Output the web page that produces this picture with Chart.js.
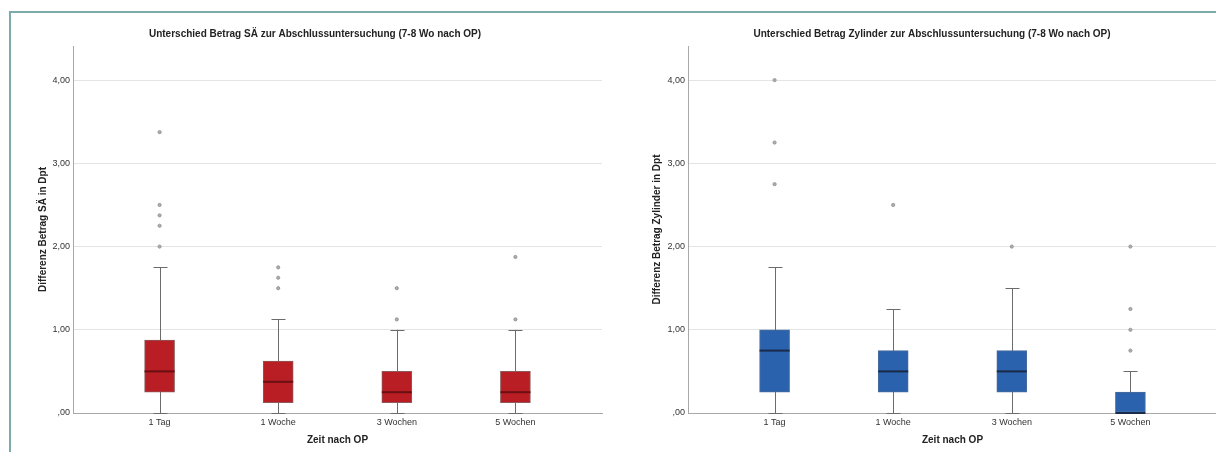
<!DOCTYPE html>
<html>
<head>
<meta charset="utf-8">
<script src="https://cdn.jsdelivr.net/npm/chart.js@4"></script>
<style>
  body { margin: 0; background: #fff; width: 1216px; height: 452px; overflow: hidden; position: relative; }
  #frame { position: absolute; left: 9px; top: 11px; width: 1220px; height: 460px; border-top: 2px solid #7cabaa; border-left: 2px solid #7cabaa; }
  .wrap { position: absolute; top: 14px; height: 438px; }
  #w1 { left: 12px; width: 606px; }
  #w2 { left: 608px; width: 648px; }
</style>
</head>
<body>
<div id="frame"></div>
<div class="wrap" id="w1"><canvas id="chart1"></canvas></div>
<div class="wrap" id="w2"><canvas id="chart2"></canvas></div>
<script>
var categories = ["1 Tag", "1 Woche", "3 Wochen", "5 Wochen"];
var yTicks = [0, 1, 2, 3, 4];

// Betrag SA
var saLow = [0, 0, 0, 0];
var saQ1 = [0.25, 0.125, 0.125, 0.125];
var saMedian = [0.5, 0.375, 0.25, 0.25];
var saQ3 = [0.875, 0.625, 0.5, 0.5];
var saHigh = [1.75, 1.125, 1.0, 1.0];
var saOutliers = [
  [3.375, 2.5, 2.375, 2.25, 2.0],
  [1.75, 1.625, 1.5],
  [1.5, 1.125],
  [1.875, 1.125]
];

// Betrag Zylinder
var zylLow = [0, 0, 0, 0];
var zylQ1 = [0.25, 0.25, 0.25, 0];
var zylMedian = [0.75, 0.5, 0.5, 0];
var zylQ3 = [1.0, 0.75, 0.75, 0.25];
var zylHigh = [1.75, 1.25, 1.5, 0.5];
var zylOutliers = [
  [4.0, 3.25, 2.75],
  [2.5],
  [2.0],
  [2.0, 1.25, 1.0, 0.75]
];

var fontFam = "'Liberation Sans', Arial, sans-serif";

var boxPlugin = {
  id: "boxExtras",
  beforeDatasetsDraw: function (chart) {
    var b = chart.options.plugins.boxExtras;
    var ctx = chart.ctx, x = chart.scales.x, y = chart.scales.y;
    ctx.save();
    ctx.strokeStyle = "#6b6b6b";
    ctx.lineWidth = 1;
    for (var i = 0; i < categories.length; i++) {
      var px = Math.round(x.getPixelForValue(i)) + 0.5;
      var lo = y.getPixelForValue(b.low[i]);
      var hi = y.getPixelForValue(b.high[i]);
      ctx.beginPath();
      ctx.moveTo(px, lo);
      ctx.lineTo(px, hi);
      ctx.moveTo(px - 7, Math.round(lo) + 0.5);
      ctx.lineTo(px + 7, Math.round(lo) + 0.5);
      ctx.moveTo(px - 7, Math.round(hi) + 0.5);
      ctx.lineTo(px + 7, Math.round(hi) + 0.5);
      ctx.stroke();
    }
    ctx.restore();
  },
  afterDatasetsDraw: function (chart) {
    var b = chart.options.plugins.boxExtras;
    var ctx = chart.ctx, x = chart.scales.x, y = chart.scales.y;
    ctx.save();
    ctx.strokeStyle = b.medianColor;
    ctx.lineWidth = 2;
    for (var i = 0; i < categories.length; i++) {
      var px = x.getPixelForValue(i);
      var py = y.getPixelForValue(b.median[i]);
      ctx.beginPath();
      ctx.moveTo(px - 15, py);
      ctx.lineTo(px + 15, py);
      ctx.stroke();
    }
    ctx.restore();
  }
};

function makeChart(id, title, yTitle, low, q1, med, q3, high, outliers, fill, edge, medColor, padLeft, yWidth, yTitlePad, padRight) {
  var boxes = [];
  var pts = [];
  for (var i = 0; i < categories.length; i++) {
    boxes.push({ x: i, y: [q1[i], q3[i]] });
    for (var j = 0; j < outliers[i].length; j++) {
      pts.push({ x: i, y: outliers[i][j] });
    }
  }
  return new Chart(document.getElementById(id), {
    type: "bar",
    data: {
      datasets: [
        {
          type: "bar",
          data: boxes,
          backgroundColor: fill,
          borderColor: edge,
          borderWidth: 1,
          borderSkipped: false,
          barThickness: 30
        },
        {
          type: "scatter",
          data: pts,
          pointRadius: 1.6,
          pointBackgroundColor: "#b0b0b0",
          pointBorderColor: "#8a8a8a",
          pointBorderWidth: 0.8
        }
      ]
    },
    options: {
      responsive: true,
      maintainAspectRatio: false,
      animation: false,
      layout: { padding: { left: padLeft, right: padRight, top: 0, bottom: 0 } },
      plugins: {
        legend: { display: false },
        tooltip: { enabled: false },
        title: {
          display: true,
          text: title,
          color: "#222",
          font: { family: fontFam, size: 10, weight: "bold" },
          padding: { top: 14, bottom: 6 }
        },
        boxExtras: { low: low, high: high, median: med, medianColor: medColor }
      },
      scales: {
        x: {
          type: "linear",
          offset: false,
          min: -0.73,
          max: 3.73,
          afterBuildTicks: function (s) {
            s.ticks = categories.map(function (c, i) { return { value: i }; });
          },
          afterFit: function (s) { s.height = 39; },
          grid: { display: false, drawTicks: false },
          border: { display: true, color: "#a8a8a8" },
          ticks: {
            padding: 4,
            color: "#333",
            font: { family: fontFam, size: 9 },
            callback: function (v) { return categories[v]; }
          },
          title: {
            display: true,
            text: "Zeit nach OP",
            color: "#222",
            font: { family: fontFam, size: 10, weight: "bold" },
            padding: { top: 2, bottom: 6 }
          }
        },
        y: {
          min: 0,
          max: 4.41,
          afterBuildTicks: function (s) {
            s.ticks = yTicks.map(function (v) { return { value: v }; });
          },
          afterFit: function (s) { s.width = yWidth; },
          grid: {
            drawTicks: false,
            color: function (c) { return c.tick && c.tick.value === 0 ? "#a8a8a8" : "#e4e4e4"; }
          },
          border: { display: true, color: "#a8a8a8" },
          ticks: {
            padding: 3,
            color: "#333",
            font: { family: fontFam, size: 9 },
            callback: function (v) { return v === 0 ? ",00" : v.toFixed(2).replace(".", ","); }
          },
          title: {
            display: true,
            text: yTitle,
            color: "#222",
            font: { family: fontFam, size: 10, weight: "bold" },
            padding: { top: yTitlePad, bottom: 6 }
          }
        }
      }
    },
    plugins: [boxPlugin]
  });
}

makeChart("chart1", "Unterschied Betrag SÄ zur Abschlussuntersuchung (7-8 Wo nach OP)",
  "Differenz Betrag SÄ in Dpt", saLow, saQ1, saMedian, saQ3, saHigh, saOutliers,
  "#b81e24", "#8c5a5a", "#6a0f12", 16, 45, 9, 16);

makeChart("chart2", "Unterschied Betrag Zylinder zur Abschlussuntersuchung (7-8 Wo nach OP)",
  "Differenz Betrag Zylinder in Dpt", zylLow, zylQ1, zylMedian, zylQ3, zylHigh, zylOutliers,
  "#2a62ad", "#4a6d9a", "#1a2a48", 39, 41, 4, 39);
</script>
</body>
</html>
